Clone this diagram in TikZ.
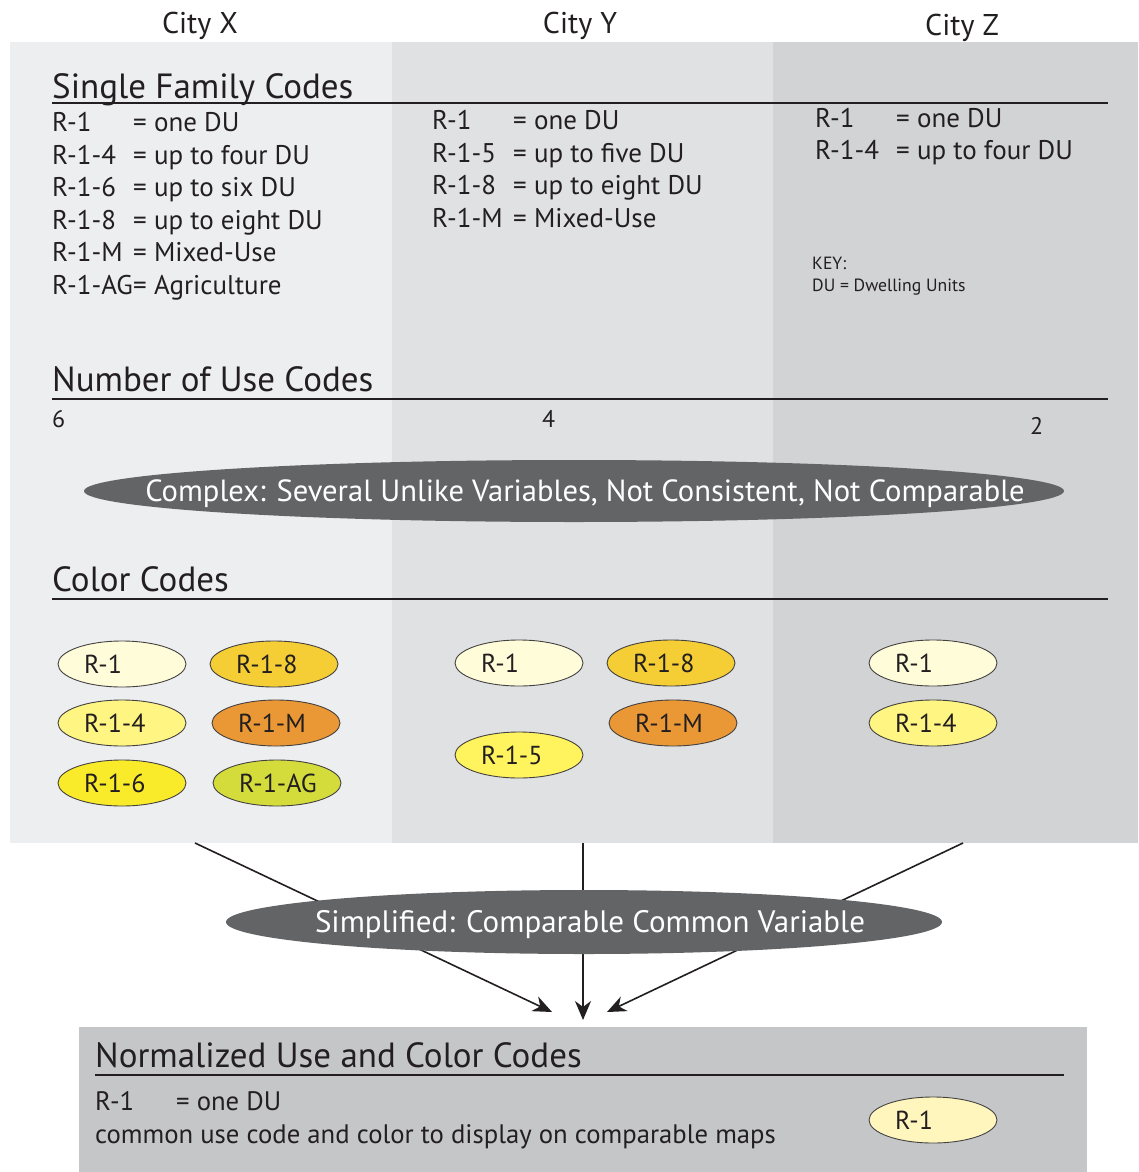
\documentclass[tikz,border=0pt]{standalone}
\usepackage{fontspec}
\setmainfont{PT Sans}
\usetikzlibrary{shapes.geometric,arrows.meta}
\definecolor{textc}{HTML}{231F20}
\definecolor{panX}{HTML}{EDEEF0}
\definecolor{panY}{HTML}{E0E1E3}
\definecolor{panZ}{HTML}{D2D3D5}
\definecolor{panN}{HTML}{C5C6C8}
\definecolor{darkc}{HTML}{636466}
\definecolor{cR}{HTML}{FFFCDA}
\definecolor{cRn}{HTML}{FFF6BE}
\definecolor{cFour}{HTML}{FFF582}
\definecolor{cFive}{HTML}{FFF35E}
\definecolor{cSix}{HTML}{FAEB2A}
\definecolor{cEight}{HTML}{F4CE34}
\definecolor{cM}{HTML}{EA9835}
\definecolor{cAG}{HTML}{D4DC3C}
\newcommand{\codetext}[1]{\makebox[76pt][l]{#1}}
\newcommand{\ctrtext}[2]{\raisebox{-10.5pt}[0pt][0pt]{\makebox[0pt][c]{\hspace*{#1}#2}}}
\begin{document}
\begin{tikzpicture}[x=1pt,y=-1pt,
  txt/.style={anchor=base west,inner sep=0pt,text=textc,font=\fontsize{27}{30}\selectfont},
  smalltxt/.style={anchor=base west,inner sep=0pt,text=textc,font=\fontsize{17.7}{20}\selectfont},
  sectitle/.style={anchor=base west,inner sep=0pt,text=textc,font=\fontsize{35}{38}\selectfont},
  city/.style={anchor=base,inner sep=0pt,text=textc,font=\fontsize{30}{32}\selectfont},
  rule/.style={line width=1.6pt,draw=textc},
  codeell/.style={ellipse,draw=textc!85,line width=0.9pt,minimum width=128pt,minimum height=46pt,
    inner sep=0pt,text=textc,font=\fontsize{26}{28}\selectfont},
  darkell/.style={ellipse,fill=darkc,inner sep=0pt,text=white},
  conn/.style={line width=1.6pt,draw=textc},
  connarrow/.style={conn,-{Stealth[length=19pt,width=16pt,inset=6pt]}}
]
\useasboundingbox (0,0) rectangle (1138,1172);
\fill[white] (0,0) rectangle (1138,1172);
% panels
\fill[panX] (10,42) rectangle (392,843);
\fill[panY] (392,42) rectangle (773,843);
\fill[panZ] (773,42) rectangle (1138,843);
% city headers
\node[city] (cityx) at (200,34) {City X};
\node[city] (cityy) at (580,34) {City Y};
\node[city] (cityz) at (962,36) {City Z};
% Single family codes
\node[sectitle] (sfc) at (52,98) {Single Family Codes};
\draw[rule] (52,103) -- (1108,103);
% City X rows
\node[txt] (x1a) at (52,131) {R-1};   \node[txt] (x1b) at (133,131) {= one DU};
\node[txt] (x2a) at (52,164) {R-1-4}; \node[txt] (x2b) at (133,164) {= up to four DU};
\node[txt] (x3a) at (52,196) {R-1-6}; \node[txt] (x3b) at (133,196) {= up to six DU};
\node[txt] (x4a) at (52,229) {R-1-8}; \node[txt] (x4b) at (133,229) {= up to eight DU};
\node[txt] (x5a) at (52,261) {R-1-M}; \node[txt] (x5b) at (133,261) {= Mixed-Use};
\node[txt] (x6a) at (52,294) {R-1-AG}; \node[txt] (x6b) at (133,294) {= Agriculture};
% City Y rows
\node[txt] (y1a) at (432,129) {R-1};   \node[txt] (y1b) at (513,129) {= one DU};
\node[txt] (y2a) at (432,162) {R-1-5}; \node[txt] (y2b) at (513,162) {= up to five DU};
\node[txt] (y3a) at (432,194) {R-1-8}; \node[txt] (y3b) at (513,194) {= up to eight DU};
\node[txt] (y4a) at (432,227) {R-1-M}; \node[txt] (y4b) at (513,227) {= Mixed-Use};
% City Z rows
\node[txt] (z1a) at (815,127) {R-1};   \node[txt] (z1b) at (896,127) {= one DU};
\node[txt] (z2a) at (815,159) {R-1-4}; \node[txt] (z2b) at (896,159) {= up to four DU};
\node[smalltxt] (key) at (812,269) {KEY:};
\node[smalltxt] (keydu) at (812,291) {DU = Dwelling Units};
% Number of use codes
\node[sectitle] (nuc) at (52,391) {Number of Use Codes};
\draw[rule] (52,399) -- (1108,399);
\node[txt,font=\fontsize{24}{26}\selectfont] (nx) at (52,427) {6};
\node[txt,font=\fontsize{24}{26}\selectfont] (ny) at (542,427) {4};
\node[txt,font=\fontsize{24}{26}\selectfont] (nz) at (1030,434) {2};
% complex ellipse
\node[darkell,minimum width=980pt,minimum height=62pt,font=\fontsize{30.6}{33}\selectfont] (complex) at (574,491)
  {\ctrtext{22pt}{Complex: Several Unlike Variables, Not Consistent, Not Comparable}};
% color codes
\node[sectitle] (cc) at (52,591) {Color Codes};
\draw[rule] (52,599) -- (1108,599);
\node[codeell,fill=cR] (ex1) at (122,664) {\codetext{R-1}};
\node[codeell,fill=cEight] (ex8) at (274,664) {\codetext{R-1-8}};
\node[codeell,fill=cFour] (ex4) at (122,723) {\codetext{R-1-4}};
\node[codeell,fill=cM] (exM) at (276,723) {\codetext{R-1-M}};
\node[codeell,fill=cSix] (ex6) at (122,783) {\codetext{R-1-6}};
\node[codeell,fill=cAG] (exAG) at (277,783) {\codetext{R-1-AG}};
\node[codeell,fill=cR] (ey1) at (519,663) {\codetext{R-1}};
\node[codeell,fill=cEight] (ey8) at (671,663) {\codetext{R-1-8}};
\node[codeell,fill=cM] (eyM) at (673,723) {\codetext{R-1-M}};
\node[codeell,fill=cFive] (ey5) at (519,755) {\codetext{R-1-5}};
\node[codeell,fill=cR] (ez1) at (933,663) {\codetext{R-1}};
\node[codeell,fill=cFour] (ez4) at (933,723) {\codetext{R-1-4}};
% connectors
\coordinate (sx) at (195,843);
\coordinate (sy) at (583,843);
\coordinate (sz) at (963,843);
\coordinate (tx) at (552,1012);
\coordinate (ty) at (583,1020);
\coordinate (tz) at (607,1012);
\draw[connarrow] (sx) -- (tx);
\draw[connarrow] (sy) -- (ty);
\draw[connarrow] (sz) -- (tz);
\node[darkell,minimum width=716pt,minimum height=64pt,font=\fontsize{31}{33}\selectfont] (simp) at (584,922)
  {\ctrtext{12pt}{Simplified: Comparable Common Variable}};
% normalized box
\fill[panN] (79,1027) rectangle (1087,1172);
\node[sectitle] (norm) at (95,1067) {Normalized Use and Color Codes};
\draw[rule] (95,1075) -- (1064,1075);
\node[txt,font=\fontsize{26.7}{28}\selectfont] (n1a) at (95,1110) {R-1};
\node[txt,font=\fontsize{26.7}{28}\selectfont] (n1b) at (176,1110) {= one DU};
\node[txt,font=\fontsize{26.7}{28}\selectfont] (n2) at (95,1143) {common use code and color to display on comparable maps};
\node[codeell,fill=cRn] (en1) at (933,1120) {\codetext{R-1}};
\end{tikzpicture}
\end{document}
